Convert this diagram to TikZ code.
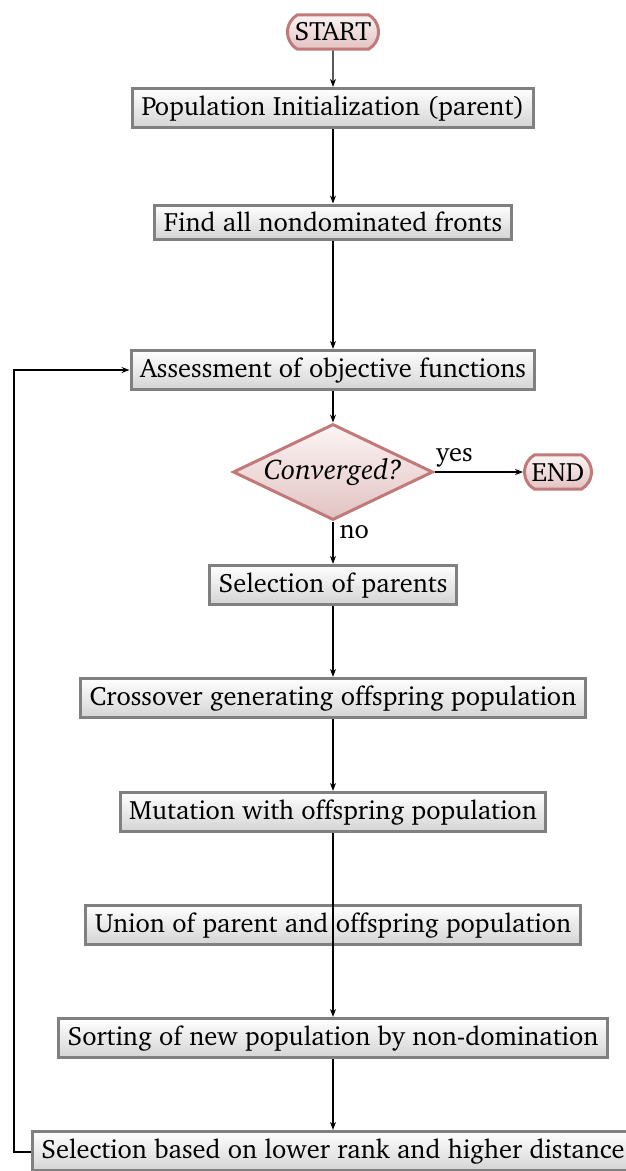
\documentclass[tikz,border=0pt]{standalone}
\usepackage[T1]{fontenc}
\usepackage{charter}
\usetikzlibrary{shapes.geometric,shapes.misc,arrows.meta}

\definecolor{boxline}{RGB}{128,128,128}
\definecolor{boxlow}{RGB}{212,212,212}
\definecolor{termline}{RGB}{192,122,122}
\definecolor{termlow}{RGB}{226,194,194}
\definecolor{termtop}{RGB}{252,244,244}

\newcommand{\chartsize}{\fontsize{26.5}{31}\selectfont}

\tikzset{
  stepbox/.style={rectangle, draw=boxline, line width=3pt,
    top color=white, bottom color=boxlow,
    inner xsep=9pt, inner ysep=7pt, font=\chartsize},
  terminal/.style={rounded rectangle, rounded rectangle arc length=120,
    draw=termline, line width=3pt,
    top color=termtop, bottom color=termlow,
    inner xsep=5pt, inner ysep=8pt, font=\chartsize},
  decision/.style={diamond, draw=termline, line width=3pt, aspect=2,
    top color=termtop, bottom color=termlow,
    minimum width=200pt, minimum height=96pt, inner sep=0pt,
    font=\fontsize{28.5}{33}\selectfont\itshape},
  flow/.style={line width=1.2pt, -{Stealth[length=8pt,width=6pt]}},
  lbl/.style={font=\chartsize, inner sep=1pt}
}

\begin{document}
\begin{tikzpicture}[x=1pt,y=-1pt]
\useasboundingbox (0,0) rectangle (625,1171);

\node[terminal] (start) at (333,32) {START};
\node[stepbox] (init) at (333,108) {Population Initialization (parent)};
\node[stepbox] (fronts) at (333,222) {Find all nondominated fronts};
\node[stepbox] (assess) at (333,370) {Assessment of objective functions};
\node[decision] (conv) at (333,472) {Converged?};
\node[terminal] (end) at (558,472) {END};
\node[stepbox] (selpar) at (333,585) {Selection of parents};
\node[stepbox] (cross) at (333,698) {Crossover generating offspring population};
\node[stepbox] (mut) at (333,812) {Mutation with offspring population};
\node[stepbox] (union) at (333,925) {Union of parent and offspring population};
\node[stepbox] (sort) at (333,1038) {Sorting of new population by non-domination};
\node[stepbox] (selnext) at (333,1151) {Selection based on lower rank and higher distance};

\coordinate (loopdown) at (14,1152);
\coordinate (loopup) at (14,370);

\draw[flow] (start) -- (init);
\draw[flow] (init) -- (fronts);
\draw[flow] (fronts) -- (assess);
\draw[flow] (assess) -- (conv);
\draw[flow] (conv) -- node[lbl, pos=0, anchor=south west, yshift=3pt] {yes} (end);
\draw[flow] (conv) -- node[lbl, pos=0, anchor=north west, xshift=5pt, yshift=-2pt] {no} (selpar);
\draw[flow] (selpar) -- (cross);
\draw[flow] (cross) -- (mut);
\draw[flow] (mut) -- (sort);
\draw[flow] (sort) -- (selnext);
\draw[flow] (selnext.west |- loopdown) -- (loopdown) -- (loopup) -- (assess.west);
\end{tikzpicture}
\end{document}
